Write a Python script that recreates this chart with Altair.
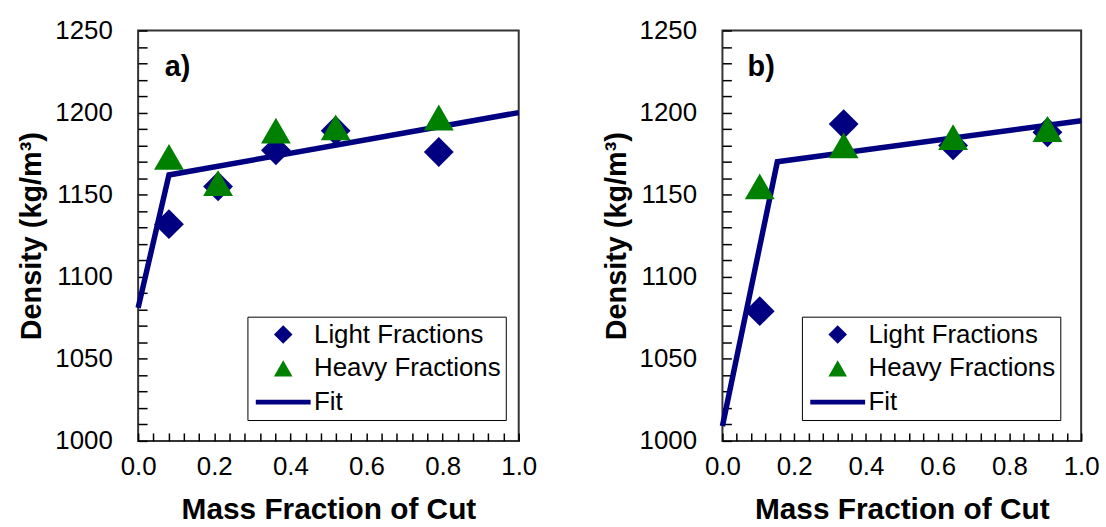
import altair as alt
import pandas as pd

series_names = ["Light Fractions", "Heavy Fractions", "Fit"]
series_colors = ["#000080", "#008000", "#000080"]

# Panel a
a_x = [0.081, 0.210, 0.362, 0.519, 0.790]
a_light = [1132, 1155, 1177, 1189, 1176]
a_heavy = [1173, 1157, 1189, 1191, 1197]
a_fit_x = [0.0, 0.081, 1.0]
a_fit_y = [1081, 1162, 1200]

# Panel b
b_x = [0.104, 0.338, 0.643, 0.906]
b_light = [1079, 1193, 1180, 1188]
b_heavy = [1155, 1180, 1185, 1190]
b_fit_x = [0.0, 0.153, 1.0]
b_fit_y = [1009, 1170, 1195]

x_ticks = [round(i * 0.04, 2) for i in range(26)]
y_ticks = list(range(1000, 1251, 10))

FONT = "Liberation Sans"
FIT_PATH = "M-2.95,-0.25H2.95V0.25H-2.95Z"


def panel(xs, light, heavy, fit_x, fit_y, tag, w, h, lx, ly):
    pts = pd.DataFrame({
        "x": xs + xs,
        "y": light + heavy,
        "series": ["Light Fractions"] * len(xs) + ["Heavy Fractions"] * len(xs),
    })
    fit = pd.DataFrame({"x": fit_x, "y": fit_y})
    lab = pd.DataFrame({"x": [0.07], "y": [1222], "t": [tag]})

    xs_ = alt.Scale(domain=[0, 1], nice=False, zero=False)
    ys_ = alt.Scale(domain=[1000, 1250], nice=False, zero=False)

    x_axis = alt.Axis(
        values=x_ticks, title="Mass Fraction of Cut",
        labelExpr="abs(datum.value*5 - round(datum.value*5)) < 0.001 ? format(datum.value, '.1f') : ''",
        offset=-8, tickSize=8, domain=False, grid=False, labelPadding=13,
        labelFlush=False, labelOverlap=False, titlePadding=15,
        labelFont=FONT, labelFontSize=26, labelColor="black",
        titleFont=FONT, titleFontSize=30, titleFontWeight="bold", titleColor="black",
        tickColor="black", tickWidth=1.5,
    )
    y_axis = alt.Axis(
        values=y_ticks, title="Density (kg/m³)",
        labelExpr="datum.value % 50 == 0 ? format(datum.value, 'd') : ''",
        offset=-9, tickSize=9, domain=False, grid=False, labelPadding=26,
        labelFlush=False, labelOverlap=False, titlePadding=8,
        labelFont=FONT, labelFontSize=26, labelColor="black",
        titleFont=FONT, titleFontSize=29, titleFontWeight="bold", titleColor="black",
        tickColor="black", tickWidth=1.5,
    )

    legend = alt.Legend(
        title=None, orient="none", legendX=lx, legendY=ly,
        fillColor="white", strokeColor="black", padding=5,
        labelFontSize=26, labelFont=FONT, labelColor="black", labelLimit=500,
        symbolSize=350, symbolStrokeWidth=0, symbolOffset=18, labelOffset=18,
        rowPadding=8,
    )

    X = alt.X("x:Q", scale=xs_, axis=x_axis)
    Y = alt.Y("y:Q", scale=ys_, axis=y_axis)

    line = alt.Chart(fit).mark_line(color="#000080", strokeWidth=5.5).encode(x=X, y=Y)
    points = alt.Chart(pts).mark_point(filled=True, size=900, opacity=1).encode(
        x=X, y=Y,
        color=alt.Color("series:N", scale=alt.Scale(domain=series_names, range=series_colors), legend=legend),
        shape=alt.Shape("series:N", scale=alt.Scale(domain=series_names, range=["diamond", "triangle-up", FIT_PATH]), legend=legend),
    )
    text = alt.Chart(lab).mark_text(
        font=FONT, fontSize=29, fontWeight="bold", align="left", baseline="alphabetic", color="black"
    ).encode(x=X, y=Y, text="t:N")
    return alt.layer(line, points, text).properties(width=w, height=h)


pa = panel(a_x, a_light, a_heavy, a_fit_x, a_fit_y, "a)", 383, 413, 110, 288)
pb = panel(b_x, b_light, b_heavy, b_fit_x, b_fit_y, "b)", 361, 413, 80, 288)

chart = alt.hconcat(pa, pb, spacing=63).resolve_scale(
    color="independent", shape="independent"
).resolve_legend(color="independent", shape="independent").properties(
    padding={"left": 17, "top": 15, "right": 5, "bottom": 5},
    background="white",
).configure_view(
    stroke="#333333", strokeWidth=2
)

chart.save("out.html", embed_options={"renderer": "svg", "actions": False})
